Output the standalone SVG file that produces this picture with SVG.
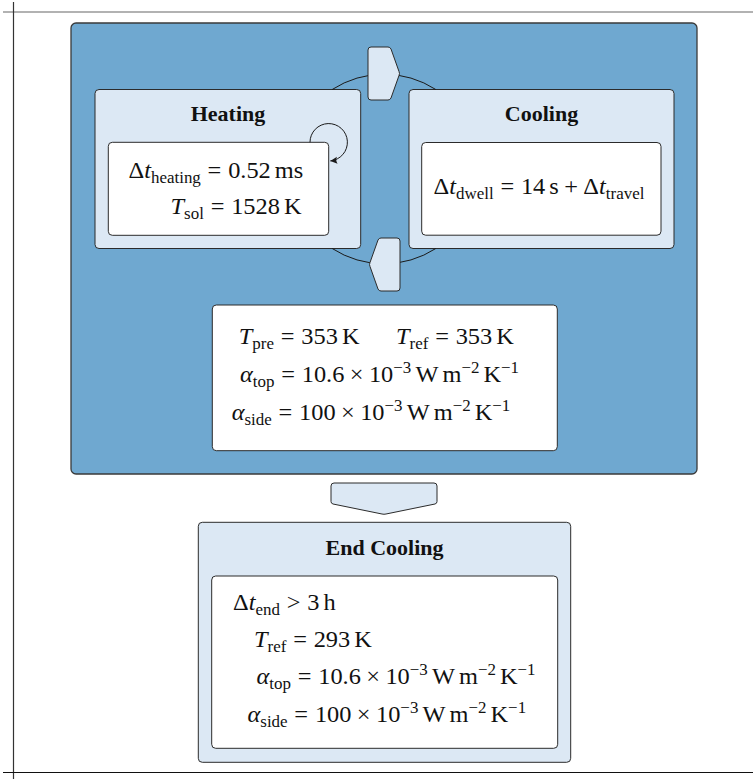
<svg xmlns="http://www.w3.org/2000/svg" width="753" height="779" viewBox="0 0 753 779">
<defs>
<style>
.frame{fill:none;stroke-width:1.2}
.stage{fill:#6fa8d0;stroke:#3a3a3a;stroke-width:1.3}
.panel{fill:#dce8f4;stroke:#2b2b2b;stroke-width:1}
.card{fill:#ffffff;stroke:#2b2b2b;stroke-width:1}
.title{font-family:"Liberation Serif",serif;font-weight:bold;font-size:22px;text-anchor:middle;fill:#111}
.m{font-family:"Liberation Serif",serif;font-size:23px;fill:#111}
.i{font-style:italic}
.s{font-size:16px}
.wire{fill:none;stroke:#1a1a1a;stroke-width:1}
.tip{fill:#dce8f4;stroke:#2b2b2b;stroke-width:1}
</style>
<marker id="arr" viewBox="-8 -4 10 8" markerWidth="10" markerHeight="8" refX="0" refY="0" orient="auto" markerUnits="userSpaceOnUse">
<path d="M0,0 L-7,-3.5 Q-5,0 -7,3.5 Z" fill="#1a1a1a"/>
</marker>
</defs>

<!-- page frame -->
<line class="frame" x1="3" y1="12" x2="753" y2="12" stroke="#666"/>
<line class="frame" x1="13.5" y1="2" x2="13.5" y2="779" stroke="#333"/>
<line class="frame" x1="3" y1="772.5" x2="753" y2="772.5" stroke="#111"/>

<!-- repeating cycle container -->
<g id="cycle-stage">
<rect class="stage" x="71" y="23" width="626" height="451" rx="5"/>
</g>

<g id="heating">
<rect class="panel" x="95" y="89.5" width="265.7" height="159" rx="4"/>
<text class="title" x="228" y="121">Heating</text>
<rect class="card" x="108.3" y="142.3" width="220.4" height="93" rx="4"/>
<text class="m" transform="translate(128.5 177.5) scale(1.06 1)">Δ<tspan class="i">t</tspan><tspan class="s" dy="5">heating</tspan><tspan dx="6.4" dy="-5">=</tspan><tspan dx="6.4">0.52</tspan><tspan dx="3.8">ms</tspan></text>
<text class="m" transform="translate(170.5 214) scale(1.06 1)"><tspan class="i">T</tspan><tspan class="s" dy="5">sol</tspan><tspan dx="6.4" dy="-5">=</tspan><tspan dx="6.4">1528</tspan><tspan dx="3.8">K</tspan></text>
</g>

<g id="cooling">
<rect class="panel" x="409" y="89.5" width="265" height="159" rx="4"/>
<text class="title" x="541.5" y="121">Cooling</text>
<rect class="card" x="421.7" y="142.5" width="239.3" height="92.7" rx="4"/>
<text class="m" transform="translate(433.5 194) scale(1.06 1)">Δ<tspan class="i">t</tspan><tspan class="s" dy="5">dwell</tspan><tspan dx="6.4" dy="-5">=</tspan><tspan dx="6.4">14</tspan><tspan dx="3.8">s</tspan><tspan dx="5.1">+</tspan><tspan dx="5.1">Δ</tspan><tspan class="i">t</tspan><tspan class="s" dy="5">travel</tspan></text>
</g>

<g id="conditions">
<rect class="card" x="212.3" y="305" width="345" height="145.7" rx="4"/>
<text class="m" transform="translate(238.8 344) scale(1.06 1)"><tspan class="i">T</tspan><tspan class="s" dy="5">pre</tspan><tspan dx="6.4" dy="-5">=</tspan><tspan dx="6.4">353</tspan><tspan dx="3.8">K</tspan></text>
<text class="m" transform="translate(396 344) scale(1.06 1)"><tspan class="i">T</tspan><tspan class="s" dy="5">ref</tspan><tspan dx="6.4" dy="-5">=</tspan><tspan dx="6.4">353</tspan><tspan dx="3.8">K</tspan></text>
<text class="m" transform="translate(240 381.5) scale(1.06 1)"><tspan class="i">α</tspan><tspan class="s" dy="5">top</tspan><tspan dx="6.4" dy="-5">=</tspan><tspan dx="6.4">10.6</tspan><tspan dx="5.1">×</tspan><tspan dx="5.1">10</tspan><tspan class="s" dy="-9">−3</tspan><tspan dx="3.8" dy="9">W</tspan><tspan dx="3.8">m</tspan><tspan class="s" dy="-9">−2</tspan><tspan dx="3.8" dy="9">K</tspan><tspan class="s" dy="-9">−1</tspan></text>
<text class="m" transform="translate(231.7 419.5) scale(1.06 1)"><tspan class="i">α</tspan><tspan class="s" dy="5">side</tspan><tspan dx="6.4" dy="-5">=</tspan><tspan dx="6.4">100</tspan><tspan dx="5.1">×</tspan><tspan dx="5.1">10</tspan><tspan class="s" dy="-9">−3</tspan><tspan dx="3.8" dy="9">W</tspan><tspan dx="3.8">m</tspan><tspan class="s" dy="-9">−2</tspan><tspan dx="3.8" dy="9">K</tspan><tspan class="s" dy="-9">−1</tspan></text>
</g>

<g id="end-cooling">
<rect class="panel" x="198.3" y="522.3" width="372.4" height="240" rx="4"/>
<text class="title" x="384.5" y="555">End Cooling</text>
<rect class="card" x="211.7" y="576" width="346" height="172.3" rx="4"/>
<text class="m" transform="translate(233 609.5) scale(1.06 1)">Δ<tspan class="i">t</tspan><tspan class="s" dy="5">end</tspan><tspan dx="6.4" dy="-5">&gt;</tspan><tspan dx="6.4">3</tspan><tspan dx="3.8">h</tspan></text>
<text class="m" transform="translate(254 647) scale(1.06 1)"><tspan class="i">T</tspan><tspan class="s" dy="5">ref</tspan><tspan dx="6.4" dy="-5">=</tspan><tspan dx="6.4">293</tspan><tspan dx="3.8">K</tspan></text>
<text class="m" transform="translate(256.5 684) scale(1.06 1)"><tspan class="i">α</tspan><tspan class="s" dy="5">top</tspan><tspan dx="6.4" dy="-5">=</tspan><tspan dx="6.4">10.6</tspan><tspan dx="5.1">×</tspan><tspan dx="5.1">10</tspan><tspan class="s" dy="-9">−3</tspan><tspan dx="3.8" dy="9">W</tspan><tspan dx="3.8">m</tspan><tspan class="s" dy="-9">−2</tspan><tspan dx="3.8" dy="9">K</tspan><tspan class="s" dy="-9">−1</tspan></text>
<text class="m" transform="translate(247.5 721.5) scale(1.06 1)"><tspan class="i">α</tspan><tspan class="s" dy="5">side</tspan><tspan dx="6.4" dy="-5">=</tspan><tspan dx="6.4">100</tspan><tspan dx="5.1">×</tspan><tspan dx="5.1">10</tspan><tspan class="s" dy="-9">−3</tspan><tspan dx="3.8" dy="9">W</tspan><tspan dx="3.8">m</tspan><tspan class="s" dy="-9">−2</tspan><tspan dx="3.8" dy="9">K</tspan><tspan class="s" dy="-9">−1</tspan></text>
</g>

<g id="connectors">
<!-- cycle ring between heating and cooling -->
<path class="wire" d="M332.2,89.5 A95.3,95.3 0 0 1 435.8,89.5"/>
<path class="wire" d="M435.8,248.5 A95.3,95.3 0 0 1 332.2,248.5"/>
<!-- heating to cooling -->
<path class="tip" d="M371,47 H388 Q390,47 391,49 L399,71.5 Q400,73.5 399,75.5 L391,98 Q390,100 388,100 H371 Q368,100 368,97 V50 Q368,47 371,47 Z"/>
<!-- cooling back to heating -->
<path class="tip" d="M397,238 H381 Q379,238 378,240 L370,262.5 Q369,264.5 370,266.5 L378,289 Q379,291 381,291 H397 Q400,291 400,288 V241 Q400,238 397,238 Z"/>
<!-- repeat pulse -->
<path class="wire" d="M310,142.3 A18.7,18.7 0 1 1 330.3,160.9" marker-end="url(#arr)"/>
<!-- cycle stage to end cooling -->
<path class="tip" d="M334,483 H434 Q437,483 437,486 V501.5 Q437,503.5 435,504 L386,514 Q384,514.5 382,514 L333,504 Q331,503.5 331,501.5 V486 Q331,483 334,483 Z"/>
</g>
</svg>
